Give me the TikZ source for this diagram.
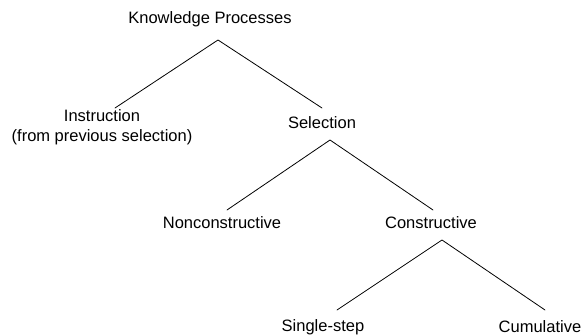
\documentclass[tikz,border=0pt]{standalone}
\usepackage{fontspec}
\setmainfont{Liberation Sans}

\begin{document}
\begin{tikzpicture}[x=1pt,y=-1pt,
    label/.style={inner sep=0pt,font=\fontsize{16.5}{20}\selectfont,align=center},
    branch/.style={thick,line cap=round}]
                \useasboundingbox (0,0) rectangle (587,336);
                \node[label] (kp) at (210,19) {Knowledge Processes};
                \node[label] (instr) at (102,127) {Instruction\\(from previous selection)};
                \node[label] (sel) at (322,123) {Selection};
                \node[label] (noncon) at (222,223) {Nonconstructive};
                \node[label] (con) at (431,223) {Constructive};
                \node[label] (single) at (323,327) {Single-step};
                \node[label] (cum) at (540,327) {Cumulative};
                % forks under each parent
                \draw[branch] ([shift={(13,-19)}]instr.center) -- ([shift={(8,21)}]kp.center) -- ([shift={(0,-15)}]sel.center);
                \draw[branch] ([shift={(5,-13)}]noncon.center) -- ([shift={(8,17)}]sel.center) -- ([shift={(2,-13)}]con.center);
                \draw[branch] ([shift={(14,-17)}]single.center) -- ([shift={(11,17)}]con.center) -- ([shift={(5,-17)}]cum.center);
            \end{tikzpicture}
\end{document}
